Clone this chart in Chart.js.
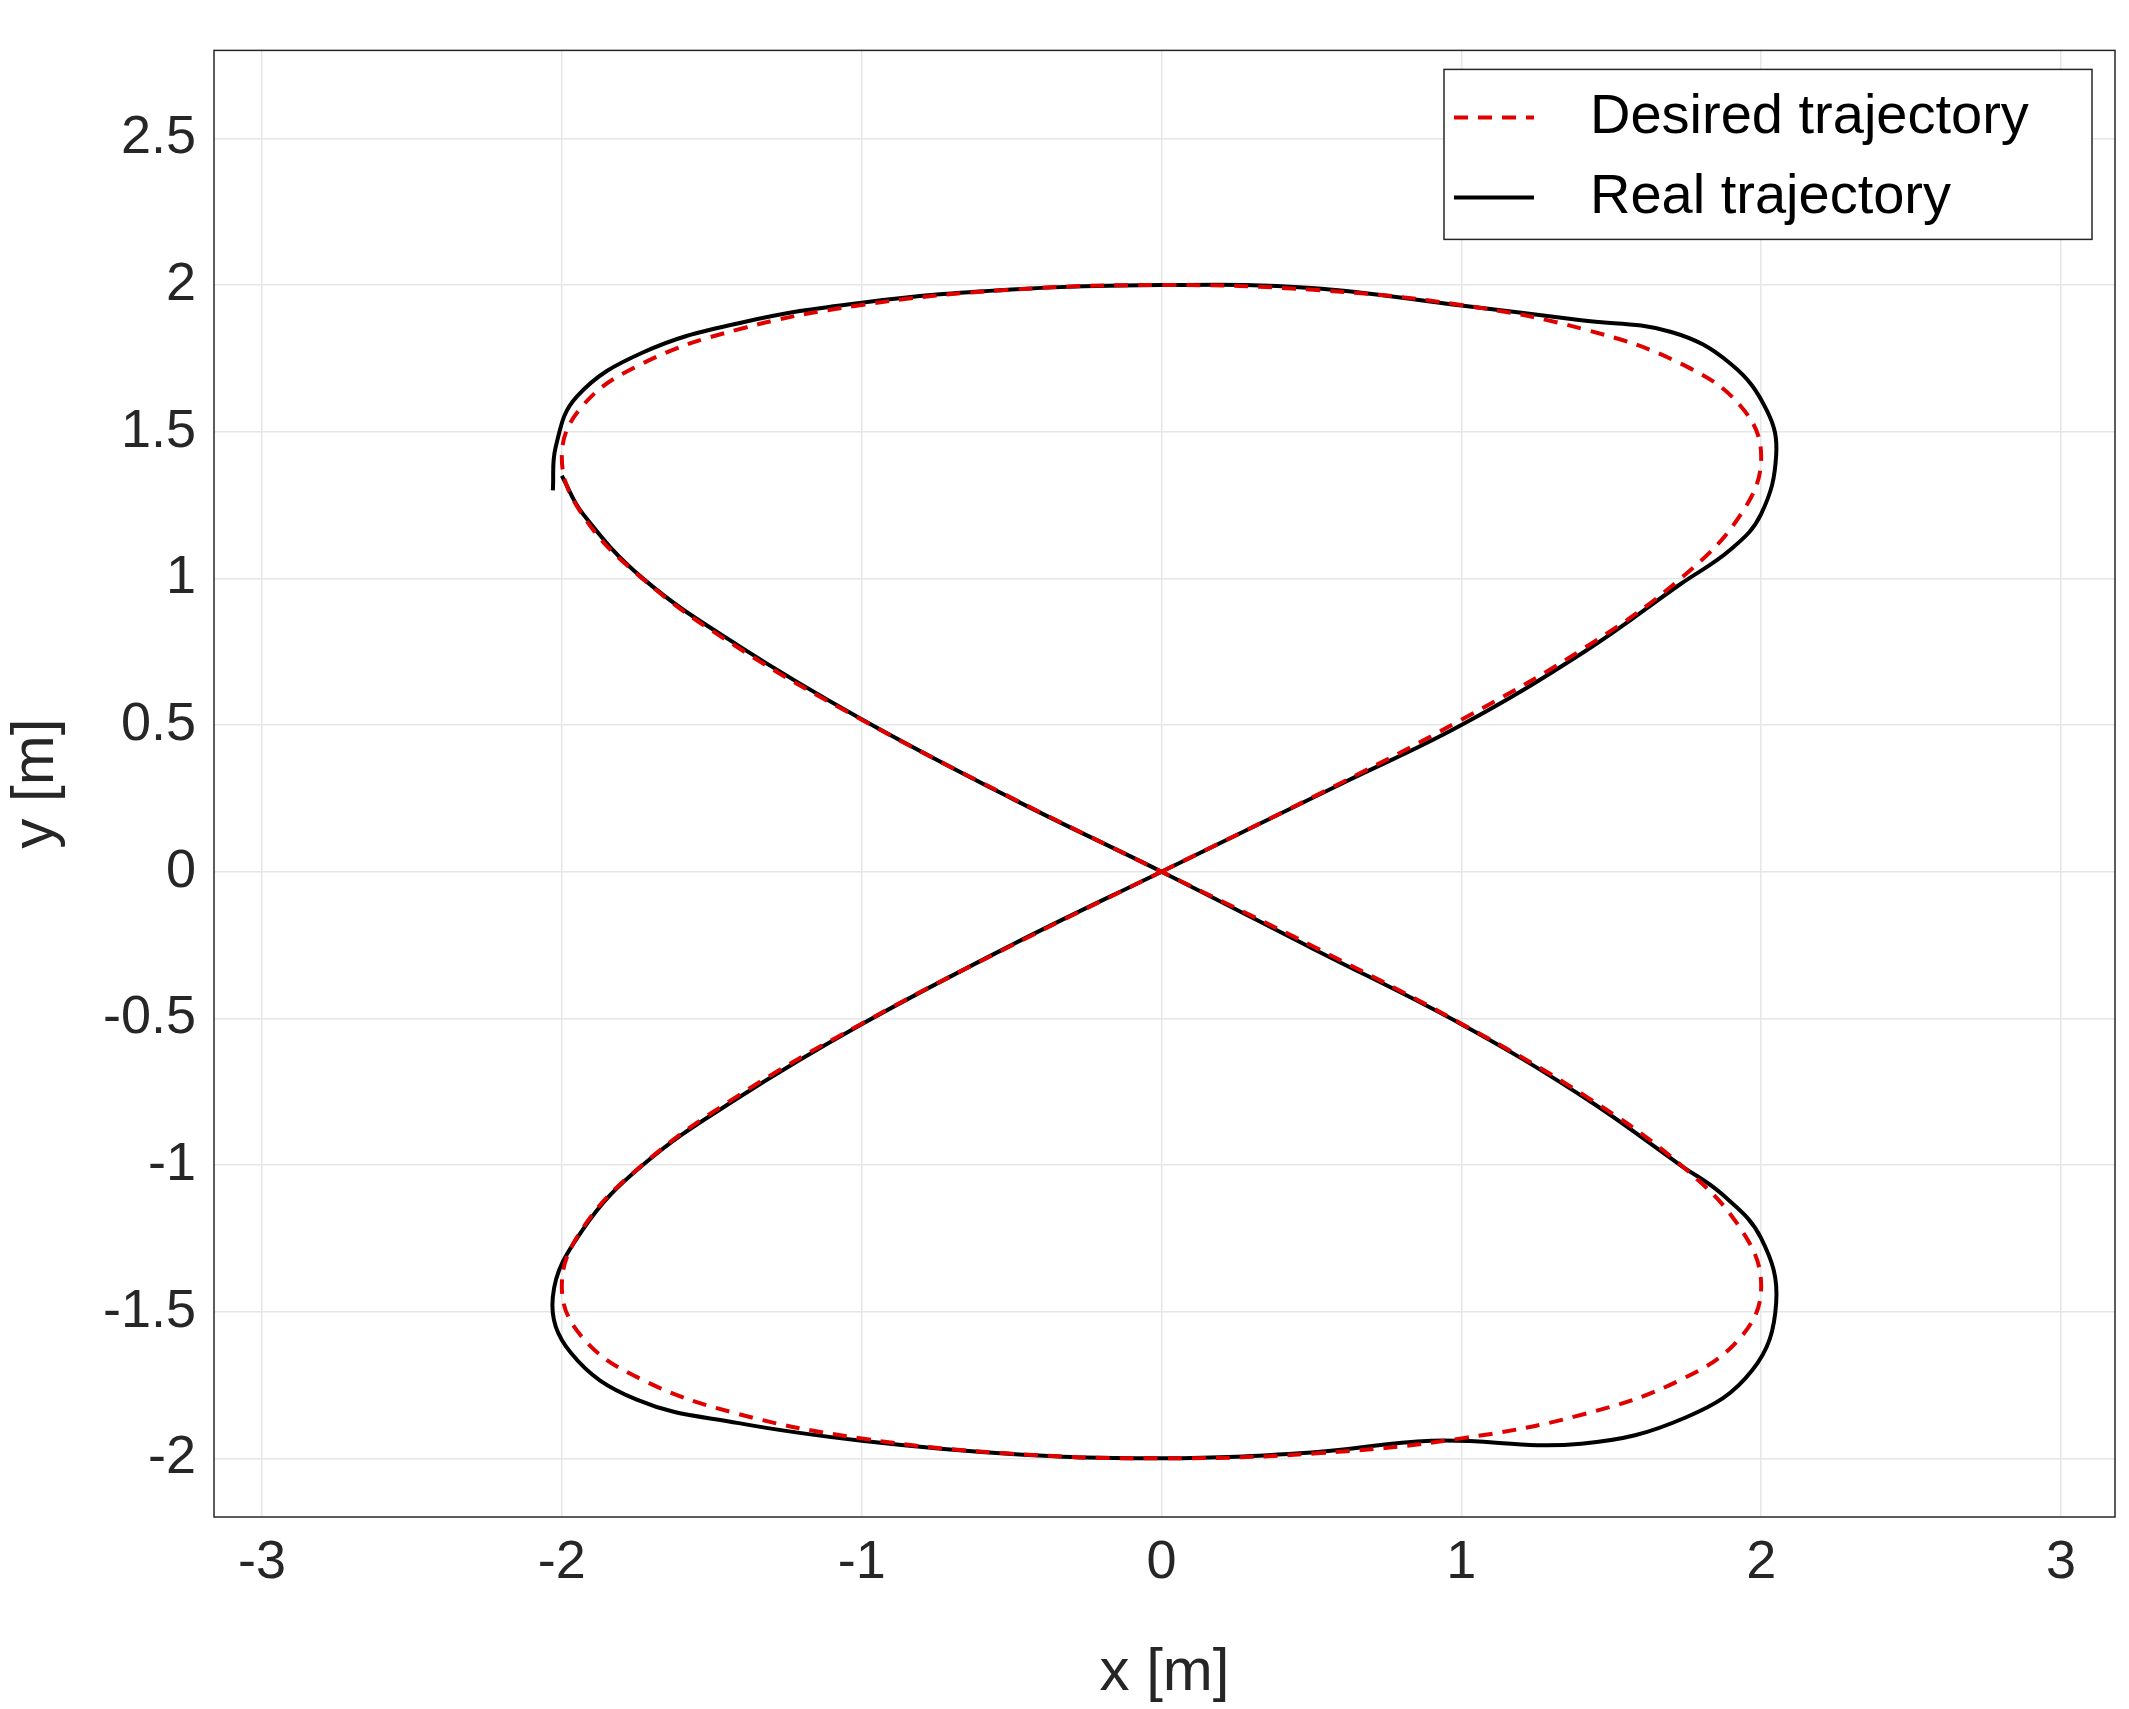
<!DOCTYPE html>
<html>
<head>
<meta charset="utf-8">
<script src="https://cdn.jsdelivr.net/npm/chart.js@4.4.0/dist/chart.umd.min.js"></script>
<style>
  body { margin: 0; background: #fff; }
  #wrap { width: 2129px; height: 1709px; }
</style>
</head>
<body>
<div id="wrap"><canvas id="traj"></canvas></div>
<script>
// desired figure-eight
var desiredX = [0, 0.518, 1.0, 1.414, 1.732, 1.932, 2.0, 1.932, 1.732, 1.414, 1.0, 0.518, 0,
  -0.518, -1.0, -1.414, -1.732, -1.932, -2.0, -1.932, -1.732, -1.414, -1.0, -0.518, 0,
  0.518, 1.0, 1.414, 1.732, 1.932, 2.0, 1.932, 1.732, 1.414, 1.0, 0.518, 0,
  -0.518, -1.0, -1.414, -1.732, -1.932, -2.0, -1.932, -1.732, -1.414, -1.0, -0.518, 0];
var desiredY = [0, 0.261, 0.518, 0.765, 1.0, 1.218, 1.414, 1.587, 1.732, 1.848, 1.932, 1.983, 2.0,
  1.983, 1.932, 1.848, 1.732, 1.587, 1.414, 1.218, 1.0, 0.765, 0.518, 0.261, 0,
  -0.261, -0.518, -0.765, -1.0, -1.218, -1.414, -1.587, -1.732, -1.848, -1.932, -1.983, -2.0,
  -1.983, -1.932, -1.848, -1.732, -1.587, -1.414, -1.218, -1.0, -0.765, -0.518, -0.261, 0];

// measured trajectory
var realX = [-2.03, -2.02, -1.95, -1.73, -1.41, -1.0, -0.5, 0, 0.5, 1.0, 1.4, 1.7, 1.9, 2.02, 2.05, 2.0, 1.9, 1.73,
  1.41, 1.0, 0.6, 0.3, 0, -0.5, -1.0, -1.41, -1.73, -1.93, -2.03, -1.97, -1.75, -1.41, -1.0, -0.5, 0,
  0.5, 0.9, 1.4, 1.75, 1.97, 2.05, 2.0, 1.87, 1.73, 1.41, 1.0, 0.5, 0, -0.5, -1.0, -1.41, -1.73, -1.93, -2.0];
var realY = [1.3, 1.45, 1.62, 1.77, 1.87, 1.94, 1.985, 2.0, 1.99, 1.93, 1.88, 1.84, 1.73, 1.57, 1.42, 1.22, 1.1, 0.98,
  0.75, 0.5, 0.3, 0.15, 0, -0.25, -0.52, -0.77, -1.0, -1.22, -1.45, -1.64, -1.8, -1.88, -1.94, -1.985, -2.0,
  -1.98, -1.94, -1.95, -1.86, -1.7, -1.47, -1.25, -1.1, -1.0, -0.77, -0.52, -0.26, 0, 0.25, 0.52, 0.77, 1.0, 1.22, 1.35];

var xTicks = [-3, -2, -1, 0, 1, 2, 3];
var yTicks = [-2, -1.5, -1, -0.5, 0, 0.5, 1, 1.5, 2, 2.5];

function toPoints(xs, ys) {
  var pts = [];
  for (var i = 0; i < xs.length; i++) pts.push({x: xs[i], y: ys[i]});
  return pts;
}

var font = "'Liberation Sans', Arial, sans-serif";

// legend box and plot frame like the original
var framePlugin = {
  id: "frame",
  afterDraw: function(chart) {
    var ctx = chart.ctx, a = chart.chartArea;
    ctx.save();
    ctx.strokeStyle = "#262626";
    ctx.lineWidth = 1.5;
    ctx.strokeRect(a.left, a.top, a.right - a.left, a.bottom - a.top);
    // legend
    var w = 648, h = 170, x0 = a.right - 23 - w, y0 = a.top + 19;
    ctx.fillStyle = "#fff";
    ctx.fillRect(x0, y0, w, h);
    ctx.strokeRect(x0, y0, w, h);
    ctx.font = "56px " + font;
    ctx.textBaseline = "middle";
    ctx.fillStyle = "#000";
    ctx.lineWidth = 4;
    ctx.strokeStyle = "#e00000";
    ctx.setLineDash([14, 10]);
    ctx.beginPath(); ctx.moveTo(x0 + 10, y0 + 48); ctx.lineTo(x0 + 90, y0 + 48); ctx.stroke();
    ctx.setLineDash([]);
    ctx.strokeStyle = "#000";
    ctx.beginPath(); ctx.moveTo(x0 + 10, y0 + 128); ctx.lineTo(x0 + 90, y0 + 128); ctx.stroke();
    ctx.fillText("Desired trajectory", x0 + 146, y0 + 48);
    ctx.fillText("Real trajectory", x0 + 146, y0 + 128);
    ctx.restore();
  }
};

var ctxTraj = document.getElementById("traj").getContext("2d");
var trajChart = new Chart(ctxTraj, {
  type: "scatter",
  data: {
    datasets: [{
      label: "Desired trajectory",
      data: toPoints(desiredX, desiredY),
      showLine: true,
      borderColor: "#e00000",
      borderWidth: 4,
      borderDash: [14, 10],
      pointRadius: 0,
      tension: 0.4
    }, {
      label: "Real trajectory",
      data: toPoints(realX, realY),
      showLine: true,
      borderColor: "#000",
      borderWidth: 4,
      pointRadius: 0,
      tension: 0.4
    }]
  },
  options: {
    responsive: true,
    maintainAspectRatio: false,
    animation: false,
    layout: { padding: { top: -11, right: 14 } },
    plugins: { legend: { display: false }, tooltip: { enabled: false } },
    scales: {
      x: {
        min: -3.16, max: 3.18,
        afterBuildTicks: function(s) { s.ticks = xTicks.map(function(v) { return {value: v}; }); },
        afterFit: function(s) { s.height = 192; },
        grid: { color: "#e6e6e6", lineWidth: 1.5, tickLength: 0 },
        border: { display: false },
        ticks: { color: "#262626", font: { size: 54, family: font }, padding: 14, maxRotation: 0,
          callback: function(v) { return String(v); } },
        title: { display: true, text: "x [m]", color: "#262626", font: { size: 60, family: font }, padding: 0 }
      },
      y: {
        min: -2.2, max: 2.8,
        afterBuildTicks: function(s) { s.ticks = yTicks.map(function(v) { return {value: v}; }); },
        afterFit: function(s) { s.width = 214; },
        grid: { color: "#e6e6e6", lineWidth: 1.5, tickLength: 0 },
        border: { display: false },
        ticks: { color: "#262626", font: { size: 54, family: font }, padding: 18,
          callback: function(v) { return String(v); } },
        title: { display: true, text: "y [m]", color: "#262626", font: { size: 60, family: font }, padding: 0 }
      }
    }
  },
  plugins: [framePlugin]
});
</script>
</body>
</html>
